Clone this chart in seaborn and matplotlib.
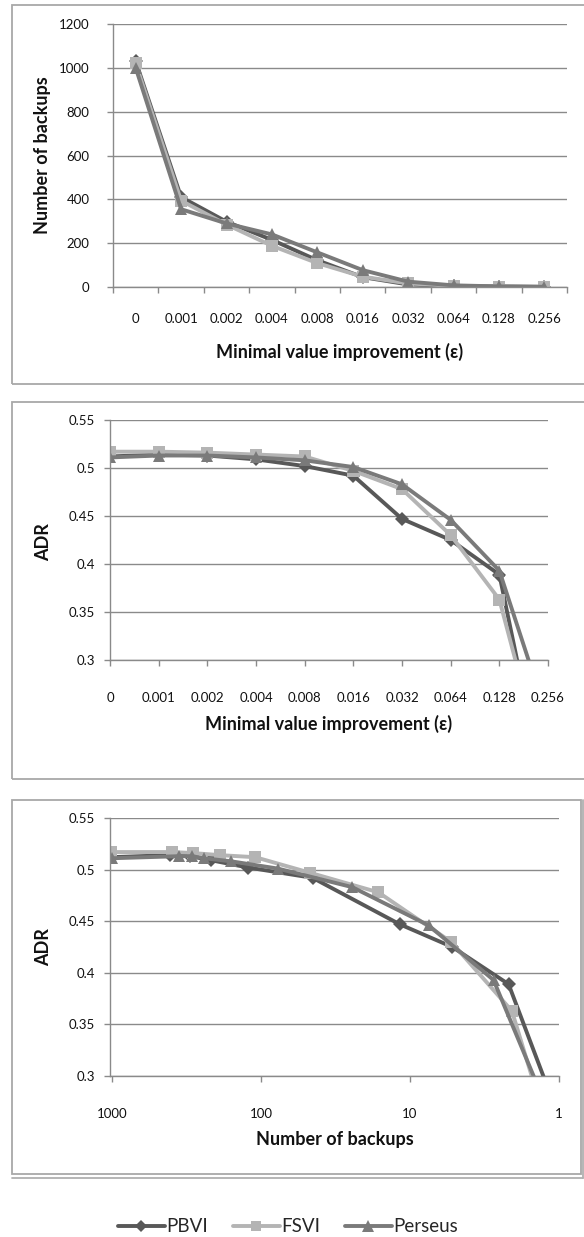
import numpy as np
import pandas as pd
import matplotlib
matplotlib.use("Agg")
import matplotlib.pyplot as plt
import seaborn as sns
from matplotlib.patches import Rectangle
from matplotlib.lines import Line2D

# ---------------- data ----------------
eps_labels = ["0", "0.001", "0.002", "0.004", "0.008", "0.016", "0.032", "0.064", "0.128", "0.256"]
series_names = ["PBVI", "FSVI", "Perseus"]

pbvi_backups = [1030, 410, 298, 215, 122, 45, 11.7, 5.2, 2.18, 0.5]
fsvi_backups = [1020, 394, 285, 188, 109, 47, 16.3, 5.3, 2.07, 0.82]
perseus_backups = [1000, 355, 290, 240, 158, 77, 24.4, 7.5, 2.75, 0.98]

pbvi_adr = [0.512, 0.514, 0.513, 0.509, 0.502, 0.492, 0.447, 0.425, 0.389, 0.145]
fsvi_adr = [0.517, 0.517, 0.516, 0.514, 0.512, 0.497, 0.478, 0.430, 0.363, 0.172]
perseus_adr = [0.511, 0.513, 0.513, 0.511, 0.508, 0.501, 0.483, 0.446, 0.393, 0.238]

backups = {"PBVI": pbvi_backups, "FSVI": fsvi_backups, "Perseus": perseus_backups}
adr = {"PBVI": pbvi_adr, "FSVI": fsvi_adr, "Perseus": perseus_adr}

rows = []
for s in series_names:
    for i, lab in enumerate(eps_labels):
        rows.append({"series": s, "idx": i, "eps": lab,
                     "backups": backups[s][i], "adr": adr[s][i]})
df = pd.DataFrame(rows)

# ---------------- style ----------------
sns.set_theme(style="white")
plt.rcParams["font.family"] = ["Lato", "DejaVu Sans"]

palette = {"PBVI": "#585858", "FSVI": "#b4b4b4", "Perseus": "#7a7a7a"}
markers = {"PBVI": "D", "FSVI": "s", "Perseus": "^"}
msizes = {"D": 7.0, "s": 8.5, "^": 9.0}
grid_c = "#8a8a8a"
text_c = "#111111"
tick_fs = 9.5
lab_fs = 13
LW = 2.8

W, H = 584, 1237
fig = plt.figure(figsize=(W / 100, H / 100), dpi=100)


def px_axes(x0, y0, x1, y1):
    return fig.add_axes([x0 / W, 1 - y1 / H, (x1 - x0) / W, (y1 - y0) / H])


def style_axes(ax, ypad):
    for sp in ["top", "right"]:
        ax.spines[sp].set_visible(False)
    for sp in ["left", "bottom"]:
        ax.spines[sp].set_color(grid_c)
        ax.spines[sp].set_linewidth(1.0)
    ax.yaxis.grid(True, color=grid_c, linewidth=1.0)
    ax.xaxis.grid(False)
    ax.set_axisbelow(True)
    ax.tick_params(axis="y", which="major", length=4, width=1.0, color=grid_c,
                   pad=ypad, labelsize=tick_fs, labelcolor=text_c, left=True)
    ax.tick_params(axis="x", which="major", length=4, width=1.0, color=grid_c,
                   labelsize=tick_fs, labelcolor=text_c, bottom=True)


def draw(ax, x, y):
    sns.lineplot(data=df, x=x, y=y, hue="series", style="series",
                 markers=markers, dashes=False, palette=palette,
                 hue_order=series_names, style_order=series_names,
                 linewidth=LW, markeredgewidth=0, legend=False, sort=False, ax=ax)
    for ln in ax.lines:
        m = ln.get_marker()
        if m in msizes:
            ln.set_markersize(msizes[m])
            ln.set_markeredgecolor(ln.get_color())


# ---------------- panel frames ----------------
def frame(x0, y0, x1, y1, lw=1.3):
    fig.add_artist(Rectangle((x0 / W, 1 - y1 / H), (x1 - x0) / W, (y1 - y0) / H,
                             transform=fig.transFigure, fill=False,
                             edgecolor="#a8a8a8", linewidth=lw))

frame(12, 5, 600, 384)
frame(12, 402, 600, 779)
frame(12, 800, 581, 1174)
fig.add_artist(Line2D([12 / W, 583 / W], [1 - 1178 / H, 1 - 1178 / H],
                      transform=fig.transFigure, color="#b0b0b0", linewidth=1.3))
fig.add_artist(Line2D([583 / W, 583 / W], [1 - 800 / H, 1 - 1178 / H],
                      transform=fig.transFigure, color="#b0b0b0", linewidth=1.3))

# ---------------- top chart ----------------
ax1 = px_axes(113, 24, 567, 287)
draw(ax1, "idx", "backups")
style_axes(ax1, ypad=13)
ax1.set_xlim(-0.5, 9.5)
ax1.set_ylim(0, 1200)
ax1.set_yticks(np.arange(0, 1201, 200))
ax1.set_xticks(np.arange(-0.5, 10, 1))
ax1.set_xticklabels([])
ax1.set_xticks(np.arange(10), minor=True)
ax1.set_xticklabels(eps_labels, minor=True)
ax1.tick_params(axis="x", which="minor", length=0, pad=19, labelsize=tick_fs, labelcolor=text_c)
ax1.set_xlabel("Minimal value improvement (ε)", fontsize=lab_fs, fontweight="bold", color=text_c)
ax1.set_ylabel("Number of backups", fontsize=lab_fs, fontweight="bold", color=text_c)
ax1.xaxis.label.set_va("center")
ax1.yaxis.label.set_va("center")
ax1.xaxis.set_label_coords(0.5, (287 - 352) / 263)
ax1.yaxis.set_label_coords((43 - 113) / 454, 0.5)

# ---------------- middle chart ----------------
ax2 = px_axes(110, 420, 548, 660)
draw(ax2, "idx", "adr")
style_axes(ax2, ypad=7)
ax2.set_xlim(0, 9)
ax2.set_ylim(0.3, 0.55)
ax2.set_yticks([0.3, 0.35, 0.4, 0.45, 0.5, 0.55])
ax2.set_yticklabels(["0.3", "0.35", "0.4", "0.45", "0.5", "0.55"])
ax2.set_xticks(np.arange(10))
ax2.set_xticklabels(eps_labels)
ax2.tick_params(axis="x", which="major", pad=19)
ax2.set_xlabel("Minimal value improvement (ε)", fontsize=lab_fs, fontweight="bold", color=text_c)
ax2.set_ylabel("ADR", fontsize=lab_fs, fontweight="bold", color=text_c)
ax2.xaxis.label.set_va("center")
ax2.yaxis.label.set_va("center")
ax2.xaxis.set_label_coords(0.5, (660 - 724) / 240)
ax2.yaxis.set_label_coords((44 - 110) / 438, 0.49)

# ---------------- bottom chart ----------------
ax3 = px_axes(110, 818, 559, 1076)
draw(ax3, "backups", "adr")
style_axes(ax3, ypad=7)
ax3.set_xscale("log")
ax3.set_xlim(1030, 1)
ax3.set_ylim(0.3, 0.55)
ax3.set_yticks([0.3, 0.35, 0.4, 0.45, 0.5, 0.55])
ax3.set_yticklabels(["0.3", "0.35", "0.4", "0.45", "0.5", "0.55"])
ax3.set_xticks([1000, 100, 10, 1])
ax3.set_xticklabels(["1000", "100", "10", "1"])
ax3.xaxis.set_minor_locator(matplotlib.ticker.NullLocator())
ax3.tick_params(axis="x", which="major", pad=19)
ax3.set_xlabel("Number of backups", fontsize=lab_fs, fontweight="bold", color=text_c)
ax3.set_ylabel("ADR", fontsize=lab_fs, fontweight="bold", color=text_c)
ax3.xaxis.label.set_va("center")
ax3.yaxis.label.set_va("center")
ax3.xaxis.set_label_coords(0.5, (1076 - 1140) / 258)
ax3.yaxis.set_label_coords((44 - 110) / 449, 0.5)

# ---------------- legend ----------------
handles = [Line2D([], [], color=palette[s], marker=markers[s], linewidth=LW,
                  markersize=msizes[markers[s]] - 1, markeredgewidth=0, label=s)
           for s in series_names]
fig.legend(handles=handles, loc="center", ncol=3, frameon=False,
           bbox_to_anchor=(288 / W, 1 - 1227 / H), fontsize=13.5,
           handlelength=2.5, handletextpad=0.1, columnspacing=1.3)

fig.savefig("out.png", dpi=100)
